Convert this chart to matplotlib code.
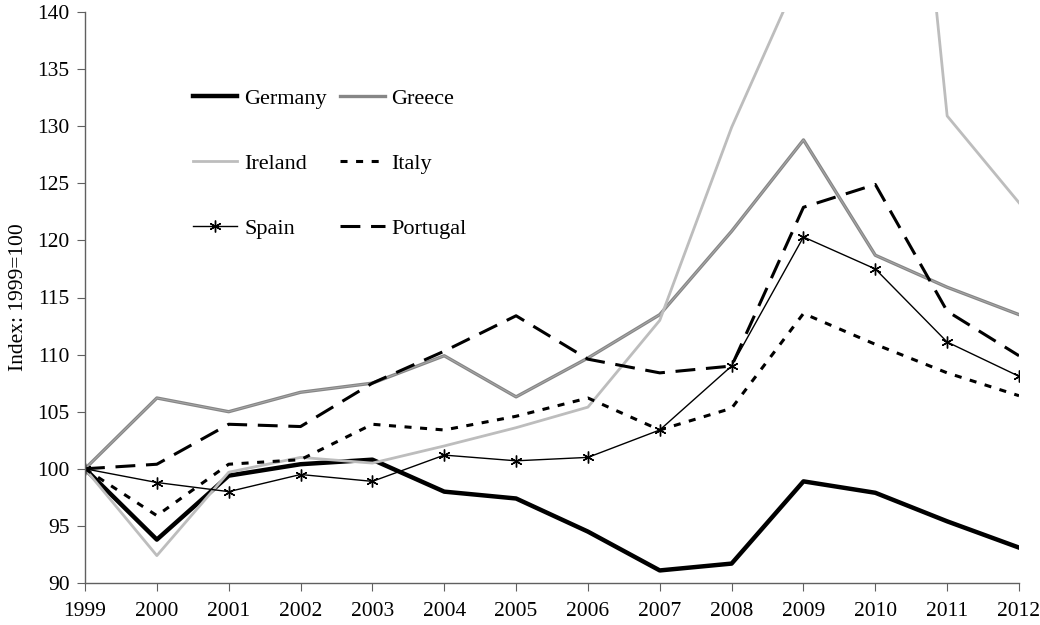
import matplotlib
matplotlib.use("Agg")
import matplotlib.pyplot as plt

years = list(range(1999, 2013))

germany = [100, 93.8, 99.4, 100.4, 100.8, 98.0, 97.4, 94.5, 91.1, 91.7, 98.9, 97.9, 95.4, 93.1]
greece = [100, 106.2, 105.0, 106.7, 107.5, 109.9, 106.3, 109.7, 113.5, 120.8, 128.8, 118.7, 115.9, 113.5]
ireland = [100, 92.4, 99.7, 101.0, 100.5, 102.0, 103.6, 105.4, 113.0, 129.9, 144.0, 193.0, 130.9, 123.3]
italy = [100, 95.9, 100.4, 100.8, 103.9, 103.4, 104.6, 106.2, 103.4, 105.3, 113.6, 110.9, 108.4, 106.4]
spain = [100, 98.8, 98.0, 99.5, 98.9, 101.2, 100.7, 101.0, 103.4, 109.0, 120.3, 117.5, 111.1, 108.1]
portugal = [100, 100.4, 103.9, 103.7, 107.5, 110.3, 113.4, 109.6, 108.4, 109.0, 122.9, 124.9, 113.8, 109.9]

plt.rcParams['font.family'] = ['Liberation Serif', 'DejaVu Serif']

fig = plt.figure(figsize=(10.4, 6.25), dpi=100)
ax = fig.add_axes([85 / 1040, 1 - 583 / 625, (1019 - 85) / 1040, (583 - 12) / 625])

l_ger, = ax.plot(years, germany, color='black', lw=3.2, label='Germany')
l_gre, = ax.plot(years, greece, color='#868686', lw=2.4, label='Greece')
# lighter core makes the grey line look like the original's double stroke
ax.plot(years, greece, color='#a8a8a8', lw=0.7)
l_ire, = ax.plot(years, ireland, color='#bdbdbd', lw=2.0, label='Ireland')
l_ita, = ax.plot(years, italy, color='black', lw=2.2, linestyle=(0, (2.3, 2.8)), label='Italy')
l_spa, = ax.plot(years, spain, color='black', lw=1.0, marker=(6, 2, 0), markersize=8.5,
                 markeredgewidth=1.0, label='Spain')
l_por, = ax.plot(years, portugal, color='black', lw=2.2, linestyle=(0, (6.5, 3.5)), label='Portugal')

ax.set_xlim(1999, 2012)
ax.set_ylim(90, 140)
ax.set_xticks(years)
ax.set_yticks(range(90, 141, 5))
ax.tick_params(axis='both', direction='out', length=6, color='#606060', labelsize=15.5)
ax.tick_params(axis='x', pad=8)
ax.tick_params(axis='y', pad=5)

for side in ['top', 'right']:
    ax.spines[side].set_visible(False)
for side in ['left', 'bottom']:
    ax.spines[side].set_color('#606060')
    ax.spines[side].set_linewidth(1.0)

ax.set_ylabel('Index: 1999=100', fontsize=15.5, labelpad=7)

# legend fills column-wise, so order rows by hand
handles = [l_ger, l_ire, l_spa, l_gre, l_ita, l_por]
fig.legend(handles, [h.get_label() for h in handles], ncol=2, frameon=False, fontsize=16,
           loc='upper left', bbox_to_anchor=(193 / 1040, 1 - 88 / 625),
           borderpad=0, handlelength=2.0, handletextpad=0.3, columnspacing=0.6,
           labelspacing=2.0, borderaxespad=0)

plt.savefig('out.png', dpi=100)
